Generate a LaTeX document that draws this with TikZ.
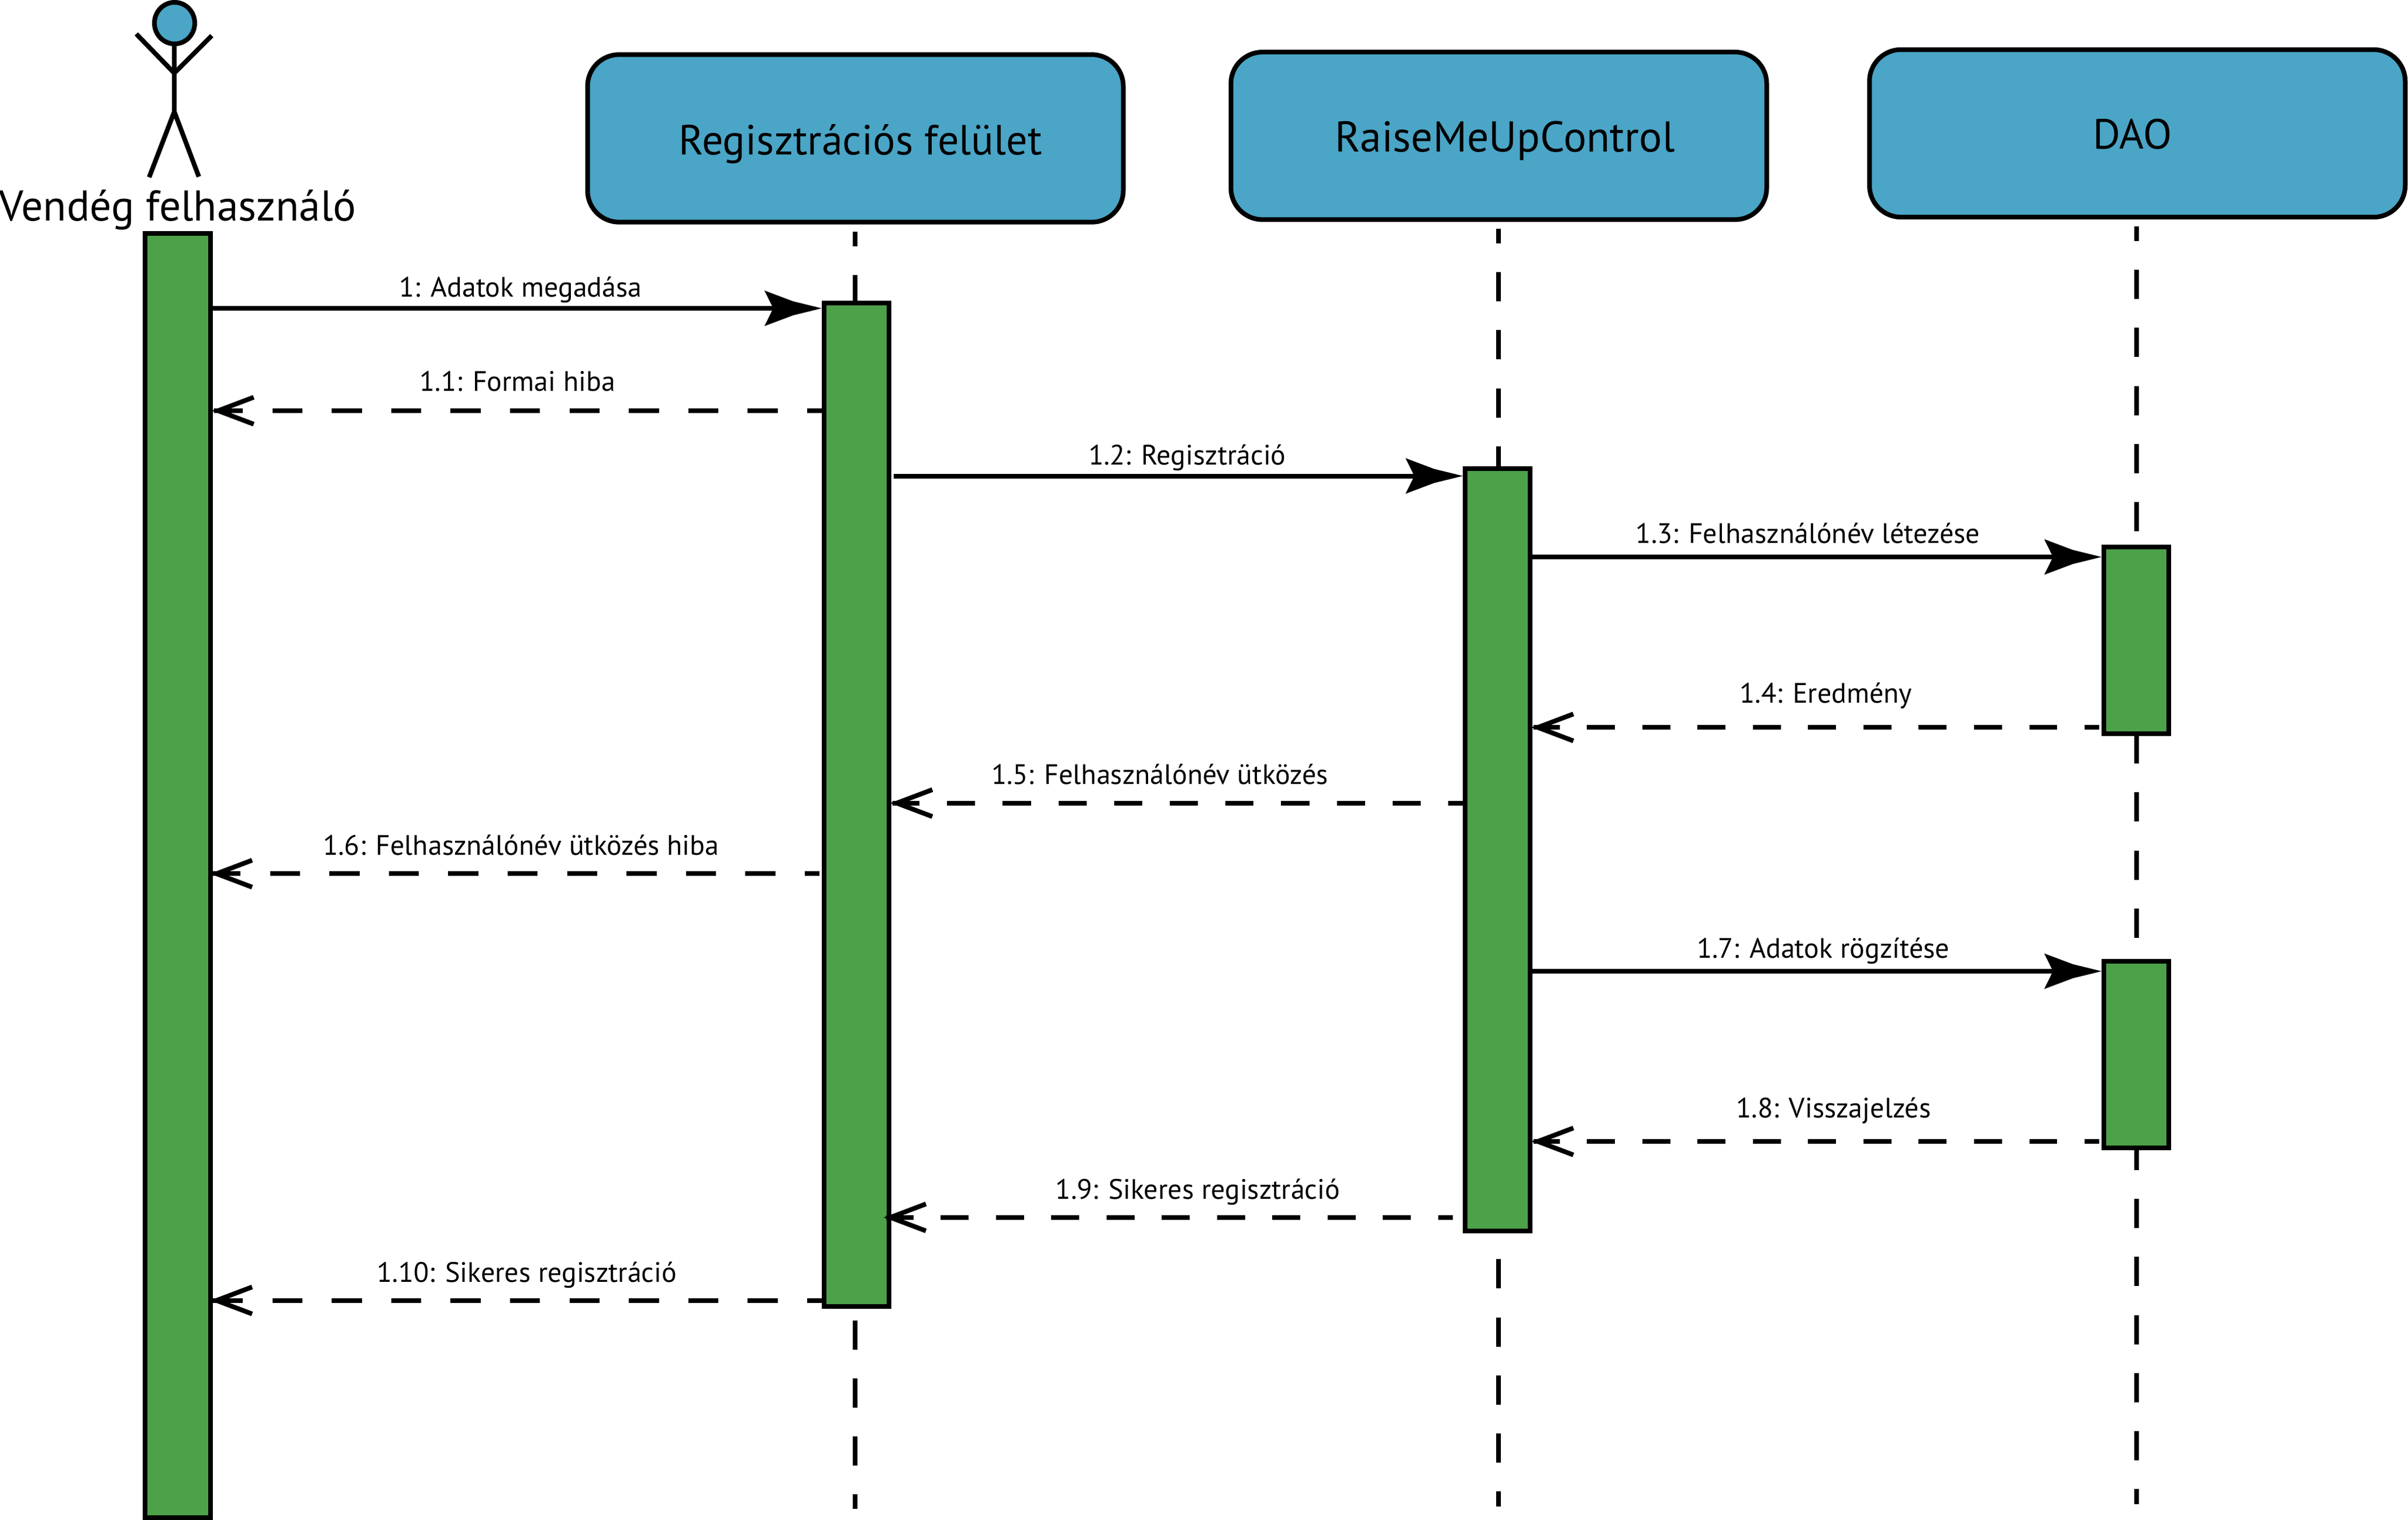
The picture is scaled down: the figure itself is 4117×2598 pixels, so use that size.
\documentclass[tikz,border=0pt]{standalone}
\usepackage{fontspec}
\setmainfont{PT Sans}
\usetikzlibrary{arrows.meta}
\definecolor{boxblue}{RGB}{74,165,198}
\definecolor{bargreen}{RGB}{76,161,73}
\pgfdeclarearrow{
  name=seqsolid,
  setup code={\pgfarrowssettipend{0pt}\pgfarrowssetbackend{-24.5pt}\pgfarrowssetlineend{-20pt}\pgfarrowssetvisualbackend{-20pt}},
  drawing code={
    \pgfpathmoveto{\pgfqpoint{0pt}{0pt}}
    \pgfpathlineto{\pgfqpoint{-12.25pt}{3pt}}
    \pgfpathlineto{\pgfqpoint{-24.5pt}{7.6pt}}
    \pgfpathlineto{\pgfqpoint{-20.75pt}{0pt}}
    \pgfpathlineto{\pgfqpoint{-24.5pt}{-7.6pt}}
    \pgfpathlineto{\pgfqpoint{-12.25pt}{-3pt}}
    \pgfpathclose
    \pgfusepathqfill
  }
}
\pgfdeclarearrow{
  name=seqopen,
  setup code={\pgfarrowssettipend{0pt}\pgfarrowssetbackend{-18pt}\pgfarrowssetlineend{-0.5pt}\pgfarrowssetvisualbackend{-2.5pt}},
  drawing code={
    \pgfsetdash{}{0pt}
    \pgfsetmiterjoin
    \pgfsetbuttcap
    \pgfpathmoveto{\pgfqpoint{-17.5pt}{5.75pt}}
    \pgfpathlineto{\pgfqpoint{-2.3pt}{0pt}}
    \pgfpathlineto{\pgfqpoint{-17.5pt}{-5.75pt}}
    \pgfusepathqstroke
  }
}
\tikzset{
  x=0.25pt,y=-0.25pt,
  stroke/.style={line width=2pt,draw=black},
  lifebox/.style={stroke,fill=boxblue,rounded corners=13.5pt,rectangle,inner sep=0pt,outer sep=1pt,
    minimum width=229pt,minimum height=71.6pt},
  bigtext/.style={font=\fontsize{18pt}{22pt}\selectfont,anchor=base,inner sep=0pt},
  widetext/.style={font=\fontsize{18.4pt}{22pt}\selectfont,anchor=base,inner sep=0pt},
  msgtext/.style={font=\fontsize{12pt}{15pt}\selectfont,anchor=base,inner sep=0pt},
  lifeline/.style={stroke,dash pattern=on 12.5pt off 12.31pt,dash phase=6.25pt},
  call/.style={line width=2pt,-seqsolid},
  reply/.style={line width=2pt,-seqopen},
  replylong/.style={reply,dash pattern=on 12.83pt off 12.57pt,dash phase=6.58pt},
  replymid/.style={reply,dash pattern=on 12.02pt off 11.78pt,dash phase=5.77pt},
  replyshort/.style={reply,dash pattern=on 11.93pt off 11.7pt,dash phase=5.67pt},
}
\newcommand{\actbar}[5]{%
  \pgfmathsetmacro{\barcx}{(#2+#4)/2}\pgfmathsetmacro{\barcy}{(#3+#5)/2}%
  \pgfmathsetmacro{\barw}{(#4-#2-8)*0.25}\pgfmathsetmacro{\barh}{(#5-#3-8)*0.25}%
  \node[stroke,fill=bargreen,rectangle,inner sep=0pt,outer sep=1pt,minimum width=\barw pt,minimum height=\barh pt] (#1) at (\barcx,\barcy) {};}
\begin{document}
\begin{tikzpicture}
\useasboundingbox (0,0) rectangle (4117,2598);
% lifelines
\coordinate (l1a) at (1462,396); \coordinate (l1b) at (1462,2579);
\coordinate (l2a) at (2561.5,391); \coordinate (l2b) at (2561.5,2575);
\coordinate (l3a) at (3653,387); \coordinate (l3b) at (3653,2571);
\draw[lifeline] (l1a) -- (l1b);
\draw[lifeline] (l2a) -- (l2b);
\draw[lifeline] (l3a) -- (l3b);
% header boxes
\node[lifebox] (reg) at (1462.5,236.5) {};
\node[lifebox] (ctl) at (2562.5,232.2) {};
\node[lifebox] (dao) at (3654.2,228) {};
\node[bigtext] (regt) at (1471,265) {Regisztrációs felület};
\node[widetext] (ctlt) at (2573,260) {RaiseMeUpControl};
\node[bigtext] (daot) at (3646,255) {DAO};
% actor
\coordinate (neck) at (298,79); \coordinate (hip) at (298,191); \coordinate (chest) at (298,125);
\coordinate (handl) at (233,58); \coordinate (handr) at (362,61);
\coordinate (footl) at (255,303); \coordinate (footr) at (340,302);
\draw[stroke] (neck) -- (hip);
\draw[stroke] (handl) -- (chest) -- (handr);
\draw[stroke] (footl) -- (hip) -- (footr);
\draw[stroke,fill=boxblue] (298.5,39.5) ellipse [x radius=34.5,y radius=35.5];
\node[widetext] (actor) at (304,378) {Vendég felhasználó};
% activation bars
\actbar{b0}{244.3}{395}{363.7}{2598}
\actbar{b1}{1405}{514}{1524}{2237}
\actbar{b2}{2501}{797.3}{2620}{2108}
\actbar{b3}{3593}{931}{3712}{1258}
\actbar{b4}{3593}{1639}{3712}{1966}
% messages
\draw[call] (b0.east |- 0,527) -- (b1.west |- 0,527);
\node[msgtext] (m1) at (890,508) {1: Adatok megadása};
\draw[replylong] (b1.west |- 0,702) -- (b0.east |- 0,702);
\node[msgtext] (m2) at (885,669) {1.1: Formai hiba};
\coordinate (s3) at (1528,813.5);
\draw[call] (s3) -- (b2.west |- s3);
\node[msgtext] (m3) at (2030,794) {1.2: Regisztráció};
\draw[call] (b2.east |- 0,952) -- (b3.west |- 0,952);
\node[msgtext] (m4) at (3091,928) {1.3: Felhasználónév létezése};
\coordinate (s5) at (3589,1243.3);
\draw[replyshort] (s5) -- (b2.east |- s5);
\node[msgtext] (m5) at (3122,1201) {1.4: Eredmény};
\draw[replymid] (b2.west |- 0,1372.7) -- (b1.east |- 0,1372.7);
\node[msgtext] (m6) at (1983,1340) {1.5: Felhasználónév ütközés};
\coordinate (s7) at (1401,1493.3); \coordinate (e7) at (361,1493.3);
\draw[replylong] (s7) -- (e7);
\node[msgtext] (m7) at (891,1461) {1.6: Felhasználónév ütközés hiba};
\draw[call] (b2.east |- 0,1660) -- (b4.west |- 0,1660);
\node[msgtext] (m8) at (3117,1637) {1.7: Adatok rögzítése};
\coordinate (s9) at (3589,1951);
\draw[replyshort] (s9) -- (b2.east |- s9);
\node[msgtext] (m9) at (3135,1910) {1.8: Visszajelzés};
\coordinate (s10) at (2484,2080.8); \coordinate (e10) at (1513,2080.8);
\draw[replyshort] (s10) -- (e10);
\node[msgtext] (m10) at (2048,2049) {1.9: Sikeres regisztráció};
\coordinate (e11) at (361,2222.7);
\draw[replylong] (b1.west |- e11) -- (e11);
\node[msgtext] (m11) at (901,2191) {1.10: Sikeres regisztráció};
\end{tikzpicture}
\end{document}
